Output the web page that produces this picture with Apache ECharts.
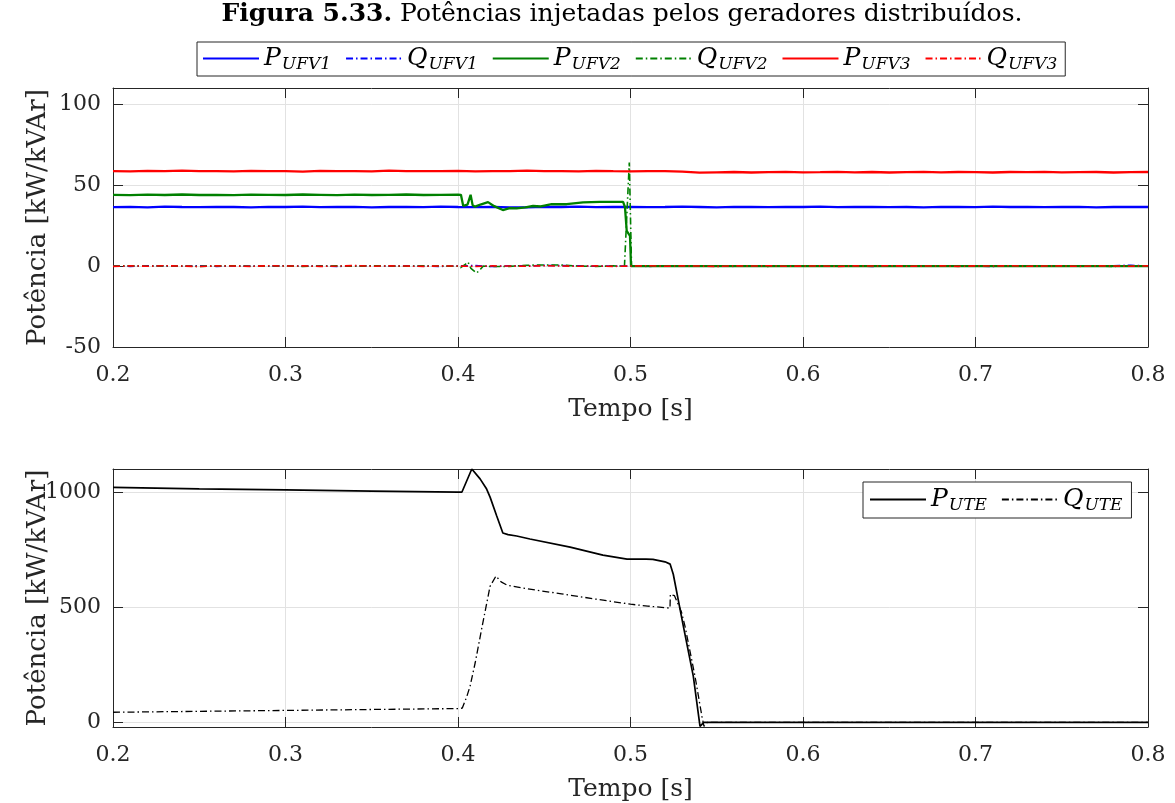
<!DOCTYPE html>
<html>
<head>
<meta charset="utf-8">
<script src="https://cdn.jsdelivr.net/npm/echarts@6/dist/echarts.min.js"></script>
<style>
html, body { margin: 0; padding: 0; background: #fff; }
#chart { width: 1175px; height: 803px; }
</style>
</head>
<body>
<div id="chart"></div>
<script>
// ---- Upper panel: distributed generators (kW / kVAr) ----
const tBase = [0.20,0.21,0.22,0.23,0.24,0.25,0.26,0.27,0.28,0.29,0.30,0.31,0.32,0.33,0.34,0.35,0.36,0.37,0.38,0.39,0.40,0.41,0.42,0.43,0.44,0.45,0.46,0.47,0.48,0.49,0.50,0.51,0.52,0.53,0.54,0.55,0.56,0.57,0.58,0.59,0.60,0.61,0.62,0.63,0.64,0.65,0.66,0.67,0.68,0.69,0.70,0.71,0.72,0.73,0.74,0.75,0.76,0.77,0.78,0.79,0.80];

const pUFV1 = [36.4,36.6,36.3,36.7,36.5,36.4,36.6,36.5,36.3,36.6,
  36.5,36.7,36.4,36.5,36.6,36.3,36.5,36.6,36.4,36.7,
  36.5,36.4,36.6,36.2,36.3,36.6,36.5,36.7,36.4,36.5,
  36.6,36.4,36.5,36.7,36.5,36.3,36.6,36.5,36.4,36.6,
  36.5,36.7,36.4,36.5,36.6,36.4,36.5,36.3,36.6,36.5,
  36.4,36.7,36.5,36.6,36.4,36.5,36.6,36.3,36.5,36.6,36.5];

const qUFV1 = [0.1,-0.2,0.2,0.0,-0.1,0.2,-0.2,0.1,0.0,-0.1,
  0.2,-0.1,0.1,-0.2,0.0,0.2,-0.1,0.1,0.0,-0.2,
  0.1,0.3,-0.3,0.2,0.1,0.4,0.3,0.1,-0.1,0.0,
  0.1,-0.2,0.2,-0.1,0.0,0.1,-0.2,0.2,0.0,-0.1,
  0.1,-0.1,0.2,0.0,-0.2,0.1,0.0,0.2,-0.1,0.1,
  0.0,-0.2,0.1,0.2,-0.1,0.0,0.1,-0.1,0.2,0.5,0.0];

const pUFV3 = [58.7,58.5,58.8,58.6,58.9,58.6,58.7,58.5,58.8,58.7,
  58.6,58.4,58.8,58.6,58.7,58.5,58.9,58.6,58.7,58.6,
  58.8,58.5,58.7,58.6,58.9,58.6,58.7,58.5,58.8,58.6,
  58.5,58.7,58.6,58.4,57.7,57.9,58.1,57.8,58.0,58.2,
  57.9,58.0,58.2,57.9,58.1,57.8,58.0,58.2,57.9,58.1,
  58.0,57.8,58.1,58.0,58.2,57.9,58.0,58.1,57.8,58.0,58.1];

const qUFV3 = [-0.2,0.1,-0.1,0.2,0.0,-0.3,0.1,0.0,-0.2,0.2,
  0.0,0.1,-0.2,0.0,0.3,-0.1,0.1,0.0,-0.2,0.1,
  0.0,-0.2,0.1,0.0,-0.1,0.2,0.0,-0.1,0.1,-0.2,
  0.0,0.2,-0.1,0.1,0.0,-0.2,0.1,0.0,0.2,-0.1,
  0.0,0.1,-0.2,0.1,0.0,0.2,-0.1,0.0,0.1,-0.2,
  0.1,0.0,0.2,-0.1,0.0,0.1,-0.2,0.1,0.0,-0.1,0.1];

// UFV2 has its own time base: it trips out around t = 0.5 s
const tP2 = [0.20,0.21,0.22,0.23,0.24,0.25,0.26,0.27,0.28,0.29,0.30,0.31,0.32,0.33,0.34,0.35,0.36,0.37,0.38,0.39,0.40,
  0.4017,0.4030,0.4055,0.4073,0.4085,0.4099,0.4130,0.4174,0.4210,0.4260,0.4300,0.4340,0.4390,0.4435,0.4480,0.4543,
  0.4630,0.4725,0.4823,0.4900,0.4957,0.4968,0.4978,0.4997,0.5003,0.55,0.60,0.65,0.70,0.75,0.80];
const pUFV2 = [44.0,43.8,44.1,43.9,44.2,43.9,44.0,43.8,44.1,44.0,43.9,44.2,44.0,43.8,44.1,43.9,44.0,44.2,43.9,44.0,44.1,
  44.0,37.2,38.0,44.0,37.5,36.7,38.0,39.5,37.0,34.6,35.8,35.6,36.3,37.1,36.8,38.3,
  38.2,39.3,39.7,39.6,39.7,36.4,21.8,18.7,0,0,0,0,0,0,0];

const tQ2 = [0.20,0.21,0.22,0.23,0.24,0.25,0.26,0.27,0.28,0.29,0.30,0.31,0.32,0.33,0.34,0.35,0.36,0.37,0.38,0.39,0.40,
  0.4015,0.4040,0.4058,0.4075,0.4108,0.4130,0.4147,0.42,0.43,0.44,0.45,0.46,0.47,0.48,0.49,0.4965,0.4993,0.5006,
  0.51,0.52,0.53,0.54,0.55,0.56,0.57,0.58,0.59,0.60,0.61,0.62,0.63,0.64,0.65,0.66,0.67,0.68,0.69,0.70,
  0.71,0.72,0.73,0.74,0.75,0.76,0.77,0.78,0.79,0.80];
const qUFV2 = [0.0,0.2,-0.1,0.1,0.0,-0.2,0.1,0.2,-0.1,0.0,0.1,-0.2,0.0,0.1,-0.1,0.2,0.0,-0.1,0.1,0.0,-0.1,
  -1.0,0.8,2.5,-1.5,-4.3,-2.0,0.0,-0.3,-0.2,0.5,0.7,0.6,0.0,-0.2,0.1,0.0,64.0,0.0,
  0.1,-0.1,0.2,0.0,-0.1,0.1,0.0,-0.2,0.1,0.0,0.2,-0.1,0.0,0.1,-0.1,0.0,0.2,-0.1,0.1,0.0,
  -0.1,0.1,0.0,0.2,-0.1,0.0,0.1,-0.2,0.1,0.0];

// ---- Lower panel: thermal unit (UTE) ----
const tPUTE = [0.20,0.25,0.30,0.35,0.40,0.4023,0.408,0.4128,0.4166,0.4186,0.4224,0.426,0.429,0.434,0.4417,0.465,0.484,0.498,0.509,0.513,0.520,0.523,0.5248,0.5306,0.5364,0.5403,0.5425,0.60,0.70,0.80];
const pUTE  = [1020,1014,1009,1004,1000,1000,1100,1057,1013,978,897,822,815,809,796,761,726,709,709,708,697,687,643,419,201,-17,0,0,0,0];

const tQUTE = [0.20,0.30,0.40,0.4025,0.405,0.407,0.410,0.414,0.4186,0.422,0.425,0.4284,0.44,0.46,0.48,0.50,0.51,0.5229,0.5231,0.5255,0.5296,0.5316,0.5374,0.5414,0.5426,0.5445,0.60,0.70,0.80];
const qUTE  = [44,52,60,62,110,157,260,417,591,635,610,596,580,558,535,513,505,496,556,550,478,417,200,26,-17,0,0,0,0];

const yTicksTop = [-50,0,50,100];
const yTicksBottom = [0,500,1000];

// ---- styling helpers ----
const SERIF = '"DejaVu Serif", "Liberation Serif", serif';
const AX = '#262626';
const GRIDC = '#e2e2e2';
const DASHDOT = [7, 3, 1.5, 3];

function pairs(t, v) { return t.map((x, i) => [x, v[i]]); }

function xAxes(g) {
  return [{
    type: 'value', gridIndex: g, min: 0.2, max: 0.8, interval: 0.1,
    axisLine: { show: true, onZero: false, lineStyle: { color: AX, width: 1 } },
    axisTick: { show: true, inside: true, length: 10, lineStyle: { color: AX } },
    axisLabel: { color: AX, fontFamily: SERIF, fontSize: 22, margin: 17,
      formatter: v => v.toFixed(1) },
    splitLine: { show: true, lineStyle: { color: GRIDC, width: 1 } },
    name: 'Tempo [s]', nameLocation: 'middle', nameGap: 50, nameMoveOverlap: false,
    nameTextStyle: { color: AX, fontFamily: SERIF, fontSize: 25 }
  }, {
    type: 'value', gridIndex: g, position: 'top', min: 0.2, max: 0.8, interval: 0.1,
    axisLine: { show: true, onZero: false, lineStyle: { color: AX, width: 1 } },
    axisTick: { show: true, inside: true, length: 10, lineStyle: { color: AX } },
    axisLabel: { show: false }, splitLine: { show: false }
  }];
}

function yAxes(g, min, max, ticks) {
  const common = { type: 'value', gridIndex: g, min: min, max: max };
  return [Object.assign({}, common, {
    position: 'left',
    axisLine: { show: true, onZero: false, lineStyle: { color: AX, width: 1 } },
    axisTick: { show: true, inside: true, length: 10, customValues: ticks, lineStyle: { color: AX } },
    axisLabel: { color: AX, fontFamily: SERIF, fontSize: 22, margin: 12, customValues: ticks,
      formatter: v => String(v) },
    splitLine: { show: true, lineStyle: { color: GRIDC, width: 1 } },
    name: 'Potência [kW/kVAr]', nameLocation: 'middle', nameGap: 62, nameMoveOverlap: false,
    nameTextStyle: { color: AX, fontFamily: SERIF, fontSize: 26 }
  }), Object.assign({}, common, {
    position: 'right',
    axisLine: { show: true, onZero: false, lineStyle: { color: AX, width: 1 } },
    axisTick: { show: true, inside: true, length: 10, customValues: ticks, lineStyle: { color: AX } },
    axisLabel: { show: false }, splitLine: { show: false }
  })];
}

function line(name, xi, yi, data, color, width, dashed) {
  return {
    name: name, type: 'line', xAxisIndex: xi, yAxisIndex: yi, data: data,
    symbol: 'none', showSymbol: false, animation: false, clip: true,
    lineStyle: { color: color, width: width, type: dashed ? DASHDOT : 'solid' },
    itemStyle: { color: color }
  };
}

const legendText = {
  fontFamily: SERIF,
  rich: {
    m: { fontFamily: SERIF, fontStyle: 'italic', fontSize: 25, lineHeight: 30, color: '#000' },
    s: { fontFamily: SERIF, fontStyle: 'italic', fontSize: 17, lineHeight: 18, color: '#000',
         padding: [12, 5, 0, 1] }
  }
};
function legendFmt(name) {
  const parts = name.split('_');
  return '{m|' + parts[0] + '}{s|' + parts[1] + '}';
}

const BLUE = '#0000ff', GREEN = '#008000', RED = '#ff0000';

const legendBase = {
  orient: 'horizontal', itemWidth: 56, itemHeight: 2, itemGap: 9,
  itemStyle: { opacity: 0 },
  borderColor: AX, borderWidth: 1, backgroundColor: '#fff',
  selectedMode: false, formatter: legendFmt, textStyle: legendText
};

const option = {
  backgroundColor: '#fff',
  animation: false,
  grid: [
    { left: 113, right: 27, top: 88, height: 259 },
    { left: 113, right: 27, top: 469, height: 259 }
  ],
  xAxis: xAxes(0).concat(xAxes(1)),
  yAxis: yAxes(0, -50, 110, yTicksTop).concat(yAxes(1, -20, 1100, yTicksBottom)),
  legend: [Object.assign({}, legendBase, {
    data: ['P_UFV1', 'Q_UFV1', 'P_UFV2', 'Q_UFV2', 'P_UFV3', 'Q_UFV3'],
    left: 197, top: 42, padding: [2, 3, 3, 5]
  }), Object.assign({}, legendBase, {
    data: ['P_UTE', 'Q_UTE'],
    left: 863, top: 482, padding: [3, 4, 4, 6]
  })],
  graphic: [{
    type: 'text', x: 622, y: 2, z: 100,
    style: {
      text: '{b|Figura 5.33.} Potências injetadas pelos geradores distribuídos.',
      fontFamily: SERIF, fontSize: 25, fill: '#000',
      align: 'center', verticalAlign: 'top',
      rich: { b: { fontFamily: SERIF, fontSize: 25, fontWeight: 'bold', fill: '#000' } }
    }
  }],
  series: [
    line('P_UFV1', 0, 0, pairs(tBase, pUFV1), BLUE, 2.3, false),
    line('Q_UFV1', 0, 0, pairs(tBase, qUFV1), BLUE, 1.6, true),
    line('P_UFV2', 0, 0, pairs(tP2, pUFV2), GREEN, 2.3, false),
    line('Q_UFV2', 0, 0, pairs(tQ2, qUFV2), GREEN, 1.6, true),
    line('P_UFV3', 0, 0, pairs(tBase, pUFV3), RED, 2.3, false),
    line('Q_UFV3', 0, 0, pairs(tBase, qUFV3), RED, 1.6, true),
    line('P_UTE', 2, 2, pairs(tPUTE, pUTE), '#000', 1.7, false),
    line('Q_UTE', 2, 2, pairs(tQUTE, qUTE), '#000', 1.3, true)
  ]
};

const chart = echarts.init(document.getElementById('chart'), null, { renderer: 'canvas' });
chart.setOption(option);
</script>
</body>
</html>
